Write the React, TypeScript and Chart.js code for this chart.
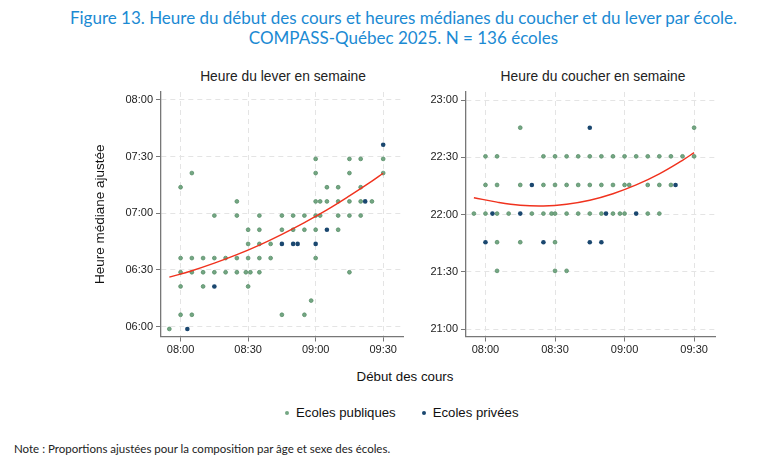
import React, { useEffect, useRef } from 'react';
import { Chart, registerables } from 'chart.js';

Chart.register(...registerables);

// Début des cours et heures médianes, en minutes après minuit
const startTicks = [480, 510, 540, 570];
const leverTicks = [360, 390, 420, 450, 480];
const coucherTicks = [1260, 1290, 1320, 1350, 1380];

// Heure du lever - écoles publiques
const leverPubX = [
  540, 555, 560, 570,
  485, 540, 555, 570,
  480, 545, 550, 560,
  505, 540, 542, 545, 550, 555, 560, 565,
  495, 505, 515, 525, 530, 535, 540, 542, 550, 555, 560,
  510, 515, 525, 530, 535, 540, 550,
  510, 515, 520,
  480, 485, 490, 495, 500, 505, 510, 515, 520, 540,
  480, 485, 490, 495, 500, 505, 509, 511, 515, 555,
  480, 490, 510,
  538,
  480, 485, 525, 535,
  475,
];
const leverPubY = [
  448.8, 448.8, 448.8, 448.8,
  441.3, 441.3, 441.3, 441.3,
  433.8, 433.8, 433.8, 433.8,
  426.3, 426.3, 426.3, 426.3, 426.3, 426.3, 426.3, 426.3,
  418.8, 418.8, 418.8, 418.8, 418.8, 418.8, 418.8, 418.8, 418.8, 418.8, 418.8,
  411.3, 411.3, 411.3, 411.3, 411.3, 411.3, 411.3,
  403.8, 403.8, 403.8,
  396.3, 396.3, 396.3, 396.3, 396.3, 396.3, 396.3, 396.3, 396.3, 396.3,
  388.8, 388.8, 388.8, 388.8, 388.8, 388.8, 388.8, 388.8, 388.8, 388.8,
  381.3, 381.3, 381.3,
  373.8,
  366.3, 366.3, 366.3, 366.3,
  358.8,
];

// Heure du lever - écoles privées
const leverPrivX = [570, 562, 545, 525, 530, 532, 540, 495, 483];
const leverPrivY = [456.3, 426.3, 411.3, 403.8, 403.8, 403.8, 403.8, 381.3, 358.8];

// Heure du coucher - écoles publiques
const coucherPubX = [
  495, 570,
  480, 485, 505, 510, 515, 520, 525, 530, 535, 540, 545, 550, 555, 560, 565, 570,
  480, 485, 495, 505, 510, 515, 520, 525, 530, 535, 540, 542, 550, 555, 560,
  475, 480, 485, 490, 500, 505, 508.5, 510, 515, 520, 525, 530, 535, 538, 540, 550, 555,
  485, 495, 510,
  485, 510, 515,
];
const coucherPubY = [
  1365.5, 1365.5,
  1350.5, 1350.5, 1350.5, 1350.5, 1350.5, 1350.5, 1350.5, 1350.5, 1350.5, 1350.5, 1350.5, 1350.5, 1350.5, 1350.5, 1350.5, 1350.5,
  1335.5, 1335.5, 1335.5, 1335.5, 1335.5, 1335.5, 1335.5, 1335.5, 1335.5, 1335.5, 1335.5, 1335.5, 1335.5, 1335.5, 1335.5,
  1320.5, 1320.5, 1320.5, 1320.5, 1320.5, 1320.5, 1320.5, 1320.5, 1320.5, 1320.5, 1320.5, 1320.5, 1320.5, 1320.5, 1320.5, 1320.5, 1320.5,
  1305.5, 1305.5, 1305.5,
  1290.5, 1290.5, 1290.5,
];

// Heure du coucher - écoles privées
const coucherPrivX = [525, 500, 562, 483, 495, 532, 545, 480, 505, 525, 530];
const coucherPrivY = [1365.5, 1335.5, 1335.5, 1320.5, 1320.5, 1320.5, 1320.5, 1305.5, 1305.5, 1305.5, 1305.5];

// Courbes ajustées
const fitX = [475, 485, 495, 505, 515, 525, 535, 545, 555, 565, 570];
const leverFitY = [386.2, 389.6, 393.6, 398.1, 403.2, 408.9, 415.1, 421.8, 429.2, 437.0, 441.2];
const coucherFitY = [1328.8, 1326.5, 1324.9, 1324.5, 1325.4, 1327.5, 1330.9, 1335.5, 1341.3, 1348.4, 1352.4];

const ARIAL = '"Liberation Sans", Arial, sans-serif';
const CALIBRI = 'Lato, "Open Sans", sans-serif';
const GREEN = '#74a783';
const GREEN_EDGE = '#5b8f6b';
const NAVY = '#1a476f';
const RED = '#f0321e';
const AXIS = '#777777';

const hhmm = (v: number) => {
  const m = ((Math.round(v) % 1440) + 1440) % 1440;
  const h = Math.floor(m / 60);
  const mm = m % 60;
  return String(h).padStart(2, '0') + ':' + String(mm).padStart(2, '0');
};

const toPoints = (xs: number[], ys: number[]) => xs.map((x, i) => ({ x, y: ys[i] }));

type PanelProps = {
  left: number;
  pubX: number[];
  pubY: number[];
  privX: number[];
  privY: number[];
  fitY: number[];
  yTicks: number[];
  xMin: number;
  xMax: number;
  yMin: number;
  yMax: number;
  yWidth: number;
  padRight: number;
  yTitle?: string;
};

const Panel: React.FC<PanelProps> = (props) => {
  const chartRef = useRef<HTMLCanvasElement>(null);

  useEffect(() => {
    if (!chartRef.current) return;
    const chart = new Chart(chartRef.current, {
      type: 'scatter',
      data: {
        datasets: [
          {
            label: 'fit',
            data: toPoints(fitX, props.fitY),
            showLine: true,
            borderColor: RED,
            borderWidth: 1.4,
            pointRadius: 0,
            tension: 0.4,
          },
          {
            label: 'Ecoles privées',
            data: toPoints(props.privX, props.privY),
            backgroundColor: NAVY,
            borderColor: NAVY,
            borderWidth: 0,
            pointRadius: 2.3,
          },
          {
            label: 'Ecoles publiques',
            data: toPoints(props.pubX, props.pubY),
            backgroundColor: GREEN,
            borderColor: GREEN_EDGE,
            borderWidth: 0.8,
            pointRadius: 1.9,
          },
        ],
      },
      options: {
        responsive: false,
        animation: false,
        layout: { padding: { top: 32, right: props.padRight, bottom: 0, left: 0 } },
        plugins: {
          legend: { display: false },
          tooltip: { enabled: false },
        },
        scales: {
          x: {
            type: 'linear',
            min: props.xMin,
            max: props.xMax,
            afterBuildTicks: (axis: any) => {
              axis.ticks = startTicks.map((v) => ({ value: v }));
            },
            afterFit: (axis: any) => {
              axis.height = 23.5;
            },
            ticks: {
              callback: (v: any) => hhmm(Number(v)),
              color: '#222222',
              font: { family: ARIAL, size: 11 },
              padding: 2,
              maxRotation: 0,
            },
            grid: {
              color: '#e4e4e4',
              lineWidth: 1,
              tickLength: 5,
              tickColor: AXIS,
              tickWidth: 1,
              tickBorderDash: [],
            },
            border: { color: AXIS, width: 1.3, dash: [5, 4] },
          },
          y: {
            type: 'linear',
            min: props.yMin,
            max: props.yMax,
            afterBuildTicks: (axis: any) => {
              axis.ticks = props.yTicks.map((v) => ({ value: v }));
            },
            afterFit: (axis: any) => {
              axis.width = props.yWidth;
            },
            title: {
              display: !!props.yTitle,
              text: props.yTitle || '',
              color: '#111111',
              font: { family: ARIAL, size: 13.5 },
              padding: { top: 4, bottom: 0 },
            },
            ticks: {
              callback: (v: any) => hhmm(Number(v)),
              color: '#222222',
              font: { family: ARIAL, size: 11 },
              padding: 3,
            },
            grid: {
              color: '#e4e4e4',
              lineWidth: 1,
              tickLength: 5,
              tickColor: AXIS,
              tickWidth: 1,
              tickBorderDash: [],
            },
            border: { color: AXIS, width: 1.3, dash: [5, 4] },
          },
        },
      },
    } as any);

    return () => {
      chart.destroy();
    };
  }, [props]);

  return (
    <canvas
      ref={chartRef}
      width={320}
      height={300}
      style={{ position: 'absolute', left: props.left, top: 60, width: 320, height: 300 }}
    />
  );
};

const textBase: React.CSSProperties = { position: 'absolute', whiteSpace: 'nowrap' };

const Dot: React.FC<{ color: string }> = ({ color }) => (
  <span
    style={{
      display: 'inline-block',
      width: 4,
      height: 4,
      borderRadius: 2,
      background: color,
      verticalAlign: 'middle',
      marginRight: 7,
      position: 'relative',
      top: -1,
    }}
  />
);

const panelTitle = (center: number): React.CSSProperties => ({
  ...textBase,
  left: center - 150,
  width: 300,
  top: 68,
  textAlign: 'center',
  fontFamily: ARIAL,
  fontSize: 13.8,
  lineHeight: '18px',
  color: '#222222',
});

const App: React.FC = () => {
  return (
    <div style={{ position: 'fixed', left: 0, top: 0, width: 783, height: 465, background: '#ffffff', overflow: 'hidden' }}>
      <div
        style={{
          ...textBase,
          left: 12,
          top: 8,
          width: 783,
          textAlign: 'center',
          color: '#1b8ad3',
          fontFamily: CALIBRI,
          fontSize: 17,
          lineHeight: '20px',
        }}
      >
        Figure 13. Heure du début des cours et heures médianes du coucher et du lever par école.
        <br />
        COMPASS-Québec 2025. N = 136 écoles
      </div>

      <div style={panelTitle(283)}>Heure du lever en semaine</div>
      <div style={panelTitle(593)}>Heure du coucher en semaine</div>

      <Panel
        left={88}
        pubX={leverPubX}
        pubY={leverPubY}
        privX={leverPrivX}
        privY={leverPrivY}
        fitY={leverFitY}
        yTicks={leverTicks}
        xMin={471.3}
        xMax={578.8}
        yMin={354.8}
        yMax={484.2}
        yWidth={73}
        padRight={5}
        yTitle="Heure médiane ajustée"
      />
      <Panel
        left={400}
        pubX={coucherPubX}
        pubY={coucherPubY}
        privX={coucherPrivX}
        privY={coucherPrivY}
        fitY={coucherFitY}
        yTicks={coucherTicks}
        xMin={471.6}
        xMax={579.1}
        yMin={1256.1}
        yMax={1384.2}
        yWidth={66}
        padRight={3}
      />

      <div
        style={{
          ...textBase,
          left: 305,
          width: 200,
          top: 369,
          textAlign: 'center',
          fontFamily: ARIAL,
          fontSize: 13.3,
          lineHeight: '16px',
          color: '#111111',
        }}
      >
        Début des cours
      </div>

      <div
        style={{
          ...textBase,
          left: 285,
          top: 405,
          fontFamily: ARIAL,
          fontSize: 13.2,
          lineHeight: '16px',
          color: '#111111',
        }}
      >
        <Dot color={GREEN} />
        Ecoles publiques
        <span style={{ display: 'inline-block', width: 26 }} />
        <Dot color={NAVY} />
        Ecoles privées
      </div>

      <div
        style={{
          ...textBase,
          left: 14,
          top: 442,
          fontFamily: CALIBRI,
          fontSize: 11.5,
          lineHeight: '14px',
          color: '#222222',
        }}
      >
        Note : Proportions ajustées pour la composition par âge et sexe des écoles.
      </div>
    </div>
  );
};

export default App;
